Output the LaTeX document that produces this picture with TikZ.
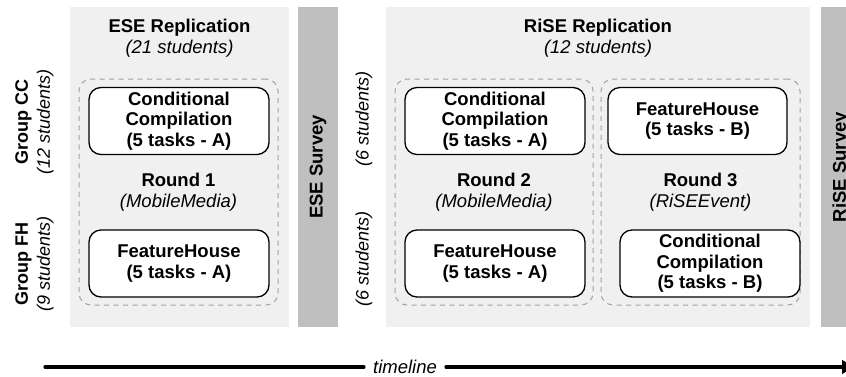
\documentclass[tikz,border=0pt]{standalone}
\usepackage{fontspec}
\setmainfont{Liberation Sans}
\usetikzlibrary{arrows.meta}
\definecolor{panelgray}{HTML}{F0F0F0}
\definecolor{surveygray}{HTML}{BFBFBF}
\definecolor{dashgray}{HTML}{A3A3A3}

\begin{document}
\begin{tikzpicture}[x=1pt,y=-1pt,
  font=\fontsize{18.5}{21}\selectfont,
  panel/.style={fill=panelgray,inner sep=0pt,minimum height=320pt},
  survey/.style={fill=surveygray,inner sep=0pt,rotate=90,minimum width=320pt,minimum height=40pt,font=\fontsize{18.5}{21}\selectfont\bfseries},
  title/.style={align=center,inner sep=0pt},
  round/.style={draw=dashgray,dash pattern=on 5pt off 4.5pt,line width=1pt,rounded corners=12pt,
    minimum height=226pt,align=center,inner sep=0pt},
  task/.style={draw,fill=white,line width=1.3pt,rounded corners=12pt,minimum width=180pt,
    minimum height=67pt,align=center,inner sep=0pt,font=\fontsize{18.5}{20.5}\selectfont\bfseries},
  group/.style={rotate=90,align=center,inner sep=0pt,font=\fontsize{18}{22}\selectfont},
  tline/.style={line width=3.2pt,line cap=round}
]
\useasboundingbox (0,0) rectangle (846,376);
\clip (0,0) rectangle (846,376);

\node[panel,minimum width=219pt] (esepanel) at (179.5,167) {};
\node[panel,minimum width=424pt] (risepanel) at (598,167) {};
\node[survey] (esesurvey) at (318,167) {ESE Survey};
\node[survey] (risesurvey) at (841,167) {RiSE Survey};

\node[title] (ese) at (179.5,38) {\textbf{ESE Replication}\\\textit{(21 students)}};
\node[title] (rise) at (598,38) {\textbf{RiSE Replication}\\\textit{(12 students)}};

\node[round,minimum width=199pt] (r1) at (178.5,192) {\textbf{Round 1}\\\textit{(MobileMedia)}};
\node[round,minimum width=198pt] (r2) at (494,192) {\textbf{Round 2}\\\textit{(MobileMedia)}};
\node[round,minimum width=199pt] (r3) at (700.5,192) {\textbf{Round 3}\\\textit{(RiSEEvent)}};

\node[task] (cc1) at (179,121) {Conditional\\Compilation\\(5 tasks - A)};
\node[task] (fh1) at (179,263.5) {FeatureHouse\\(5 tasks - A)};
\node[task] (cc2) at (495,121) {Conditional\\Compilation\\(5 tasks - A)};
\node[task] (fh2) at (495,263.5) {FeatureHouse\\(5 tasks - A)};
\node[task,minimum width=179pt] (fh3) at (697.5,121) {FeatureHouse\\(5 tasks - B)};
\node[task] (cc3) at (710,263.5) {Conditional\\Compilation\\(5 tasks - B)};

\node[group] (gcc) at (34.5,122) {\textbf{Group CC}\\\textit{(12 students)}};
\node[group] (gfh) at (34.5,264) {\textbf{Group FH}\\\textit{(9 students)}};
\node[group] (scc) at (364,119) {\textit{(6 students)}};
\node[group] (sfh) at (364,259) {\textit{(6 students)}};

\node[font=\fontsize{18.5}{21}\selectfont\itshape,inner xsep=9pt,inner ysep=0pt] (tl) at (405,367) {timeline};
\coordinate (tstart) at (45,367);
\coordinate (tend) at (858,367);
\draw[tline] (tstart) -- (tl);
\draw[tline,-{Latex[length=16pt,width=15pt]}] (tl) -- (tend);
\end{tikzpicture}
\end{document}
